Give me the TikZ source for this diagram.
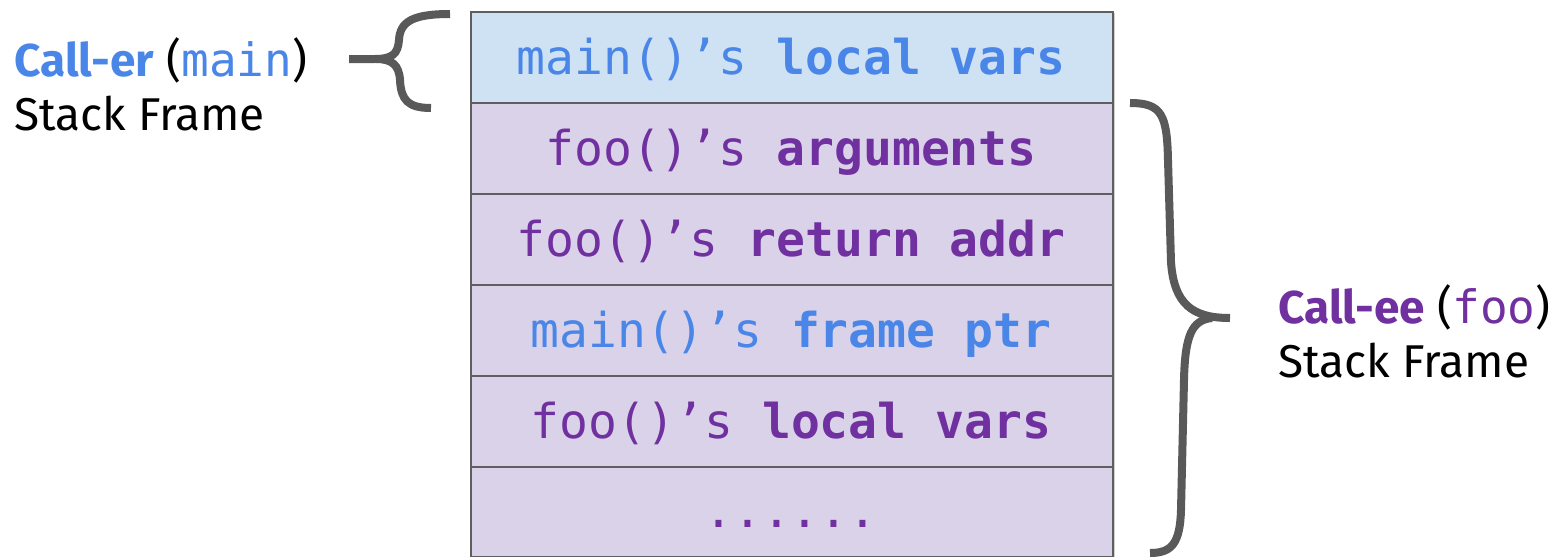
\documentclass[tikz,border=0pt]{standalone}
\usepackage{fontspec}
\setmainfont{Fira Sans}
\newfontfamily\boxmono{DejaVu Sans Mono}
\definecolor{cblue}{HTML}{4A86E8}
\definecolor{cpurple}{HTML}{7030A0}
\definecolor{fblue}{HTML}{CFE2F3}
\definecolor{fpurple}{HTML}{D9D2E9}
\definecolor{edge}{HTML}{5F5F5F}
\definecolor{bracec}{HTML}{595959}
\begin{document}
\begin{tikzpicture}[x=0.75pt,y=-0.75pt,
  row/.style={draw=edge, line width=1.5pt, minimum width=481.5pt, minimum height=68.25pt, inner sep=0pt, anchor=north west},
  rowtxt/.style={anchor=base, font=\fontsize{36}{40}\selectfont\boxmono, inner sep=0pt},
  lbl/.style={anchor=base west, font=\fontsize{34.5}{40}\selectfont, inner sep=0pt},
  bracestyle/.style={draw=bracec, line width=6pt, line cap=butt}
]
\useasboundingbox (0,0) rectangle (1554,557);
% frame shadow
\fill[black, opacity=0.18] (472,13) rectangle (1115,559);
% rows
\node[row, fill=fblue]   (r1) at (470,11)  {};
\node[row, fill=fpurple] (r2) at (470,102) {};
\node[row, fill=fpurple] (r3) at (470,193) {};
\node[row, fill=fpurple] (r4) at (470,284) {};
\node[row, fill=fpurple] (r5) at (470,375) {};
\node[row, fill=fpurple, minimum height=67.5pt] (r6) at (470,466) {};
% row texts
\node[rowtxt, text=cblue]   (t1) at (791,74)  {main()’s \textbf{local vars}};
\node[rowtxt, text=cpurple] (t2) at (791,165) {foo()’s \textbf{arguments}};
\node[rowtxt, text=cpurple] (t3) at (791,256) {foo()’s \textbf{return addr}};
\node[rowtxt, text=cblue]   (t4) at (791,347) {main()’s \textbf{frame ptr}};
\node[rowtxt, text=cpurple] (t5) at (791,438) {foo()’s \textbf{local vars}};
\node[rowtxt, text=cpurple] (t6) at (791,527) {......};
% left label
\node[lbl] (l1) at (14,76) {\textcolor{cblue}{\bfseries Call-er} ({\boxmono\textcolor{cblue}{main}})};
\node[lbl] (l2) at (14,130) {Stack Frame};
% right label
\node[lbl] (rl1) at (1278,323) {\textcolor{cpurple}{\bfseries Call-ee} ({\boxmono\textcolor{cpurple}{foo}})};
\node[lbl] (rl2) at (1278,377) {Stack Frame};
% left brace
\draw[bracestyle] (450,14) .. controls (412,14) and (400,22) .. (399,40)
   .. controls (398,54) and (392,59) .. (375,59) -- (349,59);
\draw[bracestyle] (376,59) .. controls (392,59) and (399,65) .. (400,80)
   .. controls (401,100) and (408,108) .. (431,108);
% right brace
\draw[bracestyle] (1130,103) .. controls (1162,103) and (1167,115) .. (1168,160)
   -- (1171,262) .. controls (1174,304) and (1192,318) .. (1230,318);
\draw[bracestyle] (1212,318) .. controls (1192,320) and (1185,335) .. (1184,380)
   -- (1181,510) .. controls (1180,543) and (1172,553) .. (1150,553);
\end{tikzpicture}
\end{document}
